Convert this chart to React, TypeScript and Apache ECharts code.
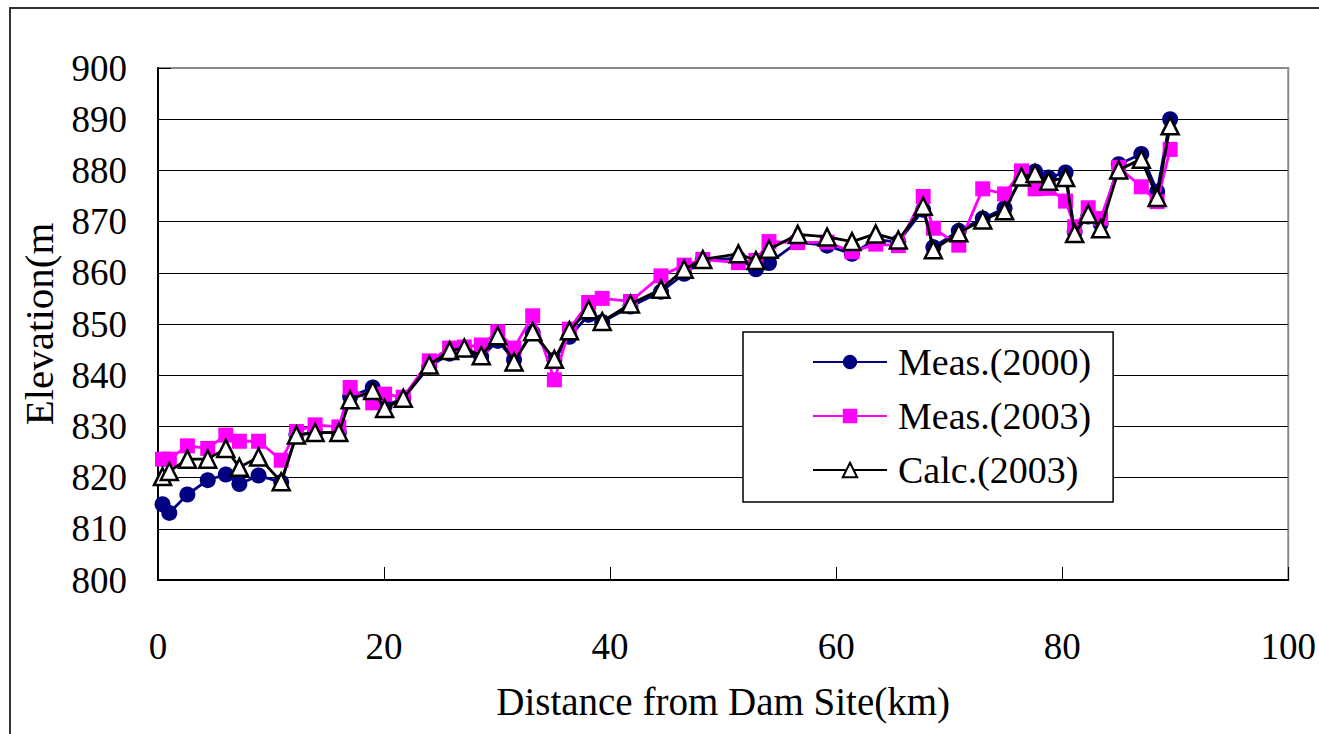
import React, { useEffect, useRef } from "react";
import * as echarts from "echarts";

// Cross-section stations along the reservoir (km from the dam)
const distanceKm = [
  0.4, 1.0, 2.6, 4.4, 6.0, 7.2, 8.9, 10.9, 12.25, 13.9, 16.0, 17.0, 19.0, 20.05,
  21.7, 24.0, 25.8, 27.1, 28.6, 30.06, 31.5, 33.15, 35.07, 36.4, 38.1, 39.3,
  41.8, 44.5, 46.55, 48.2, 51.35, 52.9, 54.06, 56.6, 59.2, 61.4, 63.5, 65.5,
  67.7, 68.6, 70.85, 72.97, 74.9, 76.4, 77.6, 78.8, 80.3, 81.1, 82.3, 83.4,
  85.0, 87.0, 88.4, 89.55,
];

// Bed elevations (m)
const meas2000 = [
  814.8, 813.1, 816.7, 819.5, 820.6, 818.75, 820.4, 819.1, 828.4, 828.8, 828.8,
  835.8, 837.6, 834.0, 835.5, 841.7, 844.2, 845.0, 843.6, 846.7, 843.0, 848.3,
  843.0, 847.5, 851.8, 850.4, 853.4, 856.3, 859.8, 862.5, 862.8, 860.7, 861.9,
  866.0, 865.3, 863.7, 866.5, 866.0, 872.3, 865.0, 868.2, 870.6, 872.6, 878.5,
  879.8, 878.6, 879.6, 868.0, 871.0, 869.6, 881.2, 883.2, 875.9, 890.0,
];

const meas2003 = [
  823.6, 823.6, 826.2, 825.7, 828.3, 827.1, 827.1, 823.4, 829.0, 830.3, 829.9,
  837.6, 834.6, 836.3, 835.7, 842.8, 845.3, 845.5, 845.9, 848.5, 845.3, 851.6,
  839.1, 849.0, 854.2, 855.0, 854.4, 859.4, 861.5, 862.6, 862.0, 862.4, 866.1,
  865.9, 866.0, 864.1, 865.6, 865.3, 874.9, 868.7, 865.4, 876.4, 875.4, 879.9,
  876.4, 876.5, 874.0, 869.0, 872.7, 870.6, 880.6, 876.8, 873.9, 884.1,
];

const calc2003 = [
  820.2, 821.2, 823.6, 823.6, 825.7, 822.0, 824.0, 819.2, 828.3, 828.8, 828.8,
  835.2, 837.0, 833.5, 835.5, 842.0, 844.8, 845.3, 843.8, 847.7, 842.6, 848.5,
  843.1, 848.7, 852.8, 850.5, 853.9, 856.8, 860.7, 862.6, 863.7, 862.4, 864.6,
  867.5, 867.0, 866.1, 867.6, 866.4, 873.0, 864.5, 867.8, 870.3, 872.1, 878.7,
  879.4, 877.9, 878.6, 867.7, 871.5, 868.6, 880.1, 882.2, 874.7, 888.7,
];

const seriesNames = ["Meas.(2000)", "Meas.(2003)", "Calc.(2003)"];

const FONT = "'Liberation Serif', 'Times New Roman', serif";

const pair = (ys: number[]) => distanceKm.map((x, i) => [x, ys[i]]);

export default function App() {
  const ref = useRef<HTMLDivElement>(null);

  useEffect(() => {
    if (!ref.current) return;
    const chart = echarts.init(ref.current, undefined, { renderer: "svg" });

    // last split line (900) is the grey plot-area border
    const gridColors = ["#000", "#000", "#000", "#000", "#000", "#000", "#000", "#000", "#000", "#000", "#8a8a8a"];

    chart.setOption({
      animation: false,
      backgroundColor: "#fff",
      textStyle: { fontFamily: FONT, color: "#000" },
      grid: {
        left: 158,
        top: 68,
        right: 27,
        bottom: 154,
        show: true,
        borderColor: "#8a8a8a",
        borderWidth: 2,
        backgroundColor: "transparent",
      },
      graphic: [
        {
          type: "rect",
          shape: { x: 10, y: 8, width: 1400, height: 800 },
          style: { fill: "none", stroke: "#333", lineWidth: 2 },
          silent: true,
          z: -10,
        },
      ],
      xAxis: {
        type: "value",
        min: 0,
        max: 100,
        interval: 20,
        name: "Distance from Dam Site(km)",
        nameLocation: "middle",
        nameGap: 102,
        nameTextStyle: { fontFamily: FONT, fontSize: 39, color: "#000" },
        axisLine: { show: true, onZero: false, lineStyle: { color: "#000", width: 2 } },
        axisTick: { show: true, inside: true, length: 13, lineStyle: { color: "#000", width: 1 } },
        axisLabel: { fontFamily: FONT, fontSize: 37, color: "#000", margin: 48 },
        splitLine: { show: false },
      },
      yAxis: {
        type: "value",
        min: 800,
        max: 900,
        interval: 10,
        name: "Elevation(m",
        nameLocation: "middle",
        nameGap: 99,
        nameRotate: 90,
        nameTextStyle: { fontFamily: FONT, fontSize: 41, color: "#000" },
        axisLine: { show: true, lineStyle: { color: "#000", width: 2 } },
        axisTick: { show: true, inside: true, length: 13, lineStyle: { color: "#000", width: 1 } },
        axisLabel: { fontFamily: FONT, fontSize: 37, color: "#000", margin: 31 },
        splitLine: { show: true, lineStyle: { color: gridColors, width: 1.2 } },
      },
      legend: {
        orient: "vertical",
        left: 743,
        top: 332,
        padding: [10, 22, 12, 69],
        itemGap: 14,
        itemWidth: 74,
        itemHeight: 18,
        backgroundColor: "#fff",
        borderColor: "#000",
        borderWidth: 1.5,
        data: seriesNames,
        textStyle: {
          fontFamily: FONT,
          fontSize: 38,
          color: "#000",
          lineHeight: 40,
          padding: [0, 0, 0, 6],
        },
      },
      series: [
        {
          name: seriesNames[0],
          type: "line",
          data: pair(meas2000),
          symbol: "circle",
          symbolSize: 16,
          lineStyle: { color: "#000080", width: 2.8 },
          itemStyle: { color: "#000080" },
          z: 2,
        },
        {
          name: seriesNames[1],
          type: "line",
          data: pair(meas2003),
          symbol: "rect",
          symbolSize: 15,
          lineStyle: { color: "#ff00ff", width: 2.8 },
          itemStyle: { color: "#ff00ff" },
          z: 3,
        },
        {
          name: seriesNames[2],
          type: "line",
          data: pair(calc2003),
          symbol: "triangle",
          symbolSize: 17,
          lineStyle: { color: "#000", width: 2.8 },
          itemStyle: { color: "#fff", borderColor: "#000", borderWidth: 2.5 },
          z: 4,
        },
      ],
    });

    return () => chart.dispose();
  }, []);

  return (
    <div
      ref={ref}
      style={{ position: "absolute", left: 0, top: 0, width: 1319, height: 734, background: "#fff" }}
    />
  );
}
